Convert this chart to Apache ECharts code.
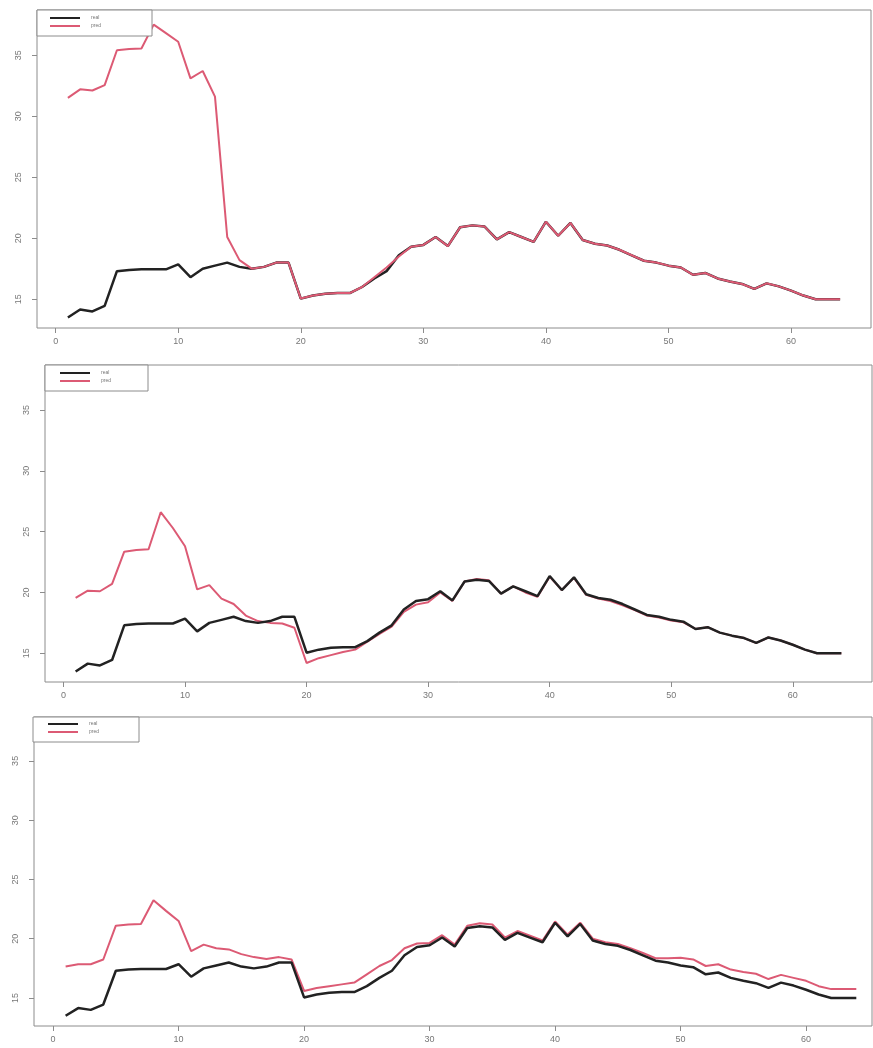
<!DOCTYPE html>
<html>
<head>
<meta charset="utf-8">
<script src="https://cdn.jsdelivr.net/npm/echarts@6/dist/echarts.min.js"></script>
<style>
    html, body { margin: 0; padding: 0; background: #fff; }
    #chart { width: 873px; height: 1048px; }
</style>
</head>
<body>
<div id="chart"></div>
<script>
// time step index
var steps = [1, 2, 3, 4, 5, 6, 7, 8, 9, 10, 11, 12, 13, 14, 15, 16,
    17, 18, 19, 20, 21, 22, 23, 24, 25, 26, 27, 28, 29, 30, 31, 32,
    33, 34, 35, 36, 37, 38, 39, 40, 41, 42, 43, 44, 45, 46, 47, 48,
    49, 50, 51, 52, 53, 54, 55, 56, 57, 58, 59, 60, 61, 62, 63, 64];

// observed values (black line, same in all three panels)
var real = [13.5, 14.15, 14.0, 14.45, 17.3, 17.4, 17.45, 17.45, 17.45, 17.85, 16.8, 17.5, 17.75, 18.0, 17.65, 17.5,
    17.65, 18.0, 18.0, 15.05, 15.3, 15.45, 15.5, 15.5, 16.0, 16.7, 17.3, 18.6, 19.3, 19.45, 20.1, 19.35,
    20.9, 21.05, 20.95, 19.9, 20.5, 20.1, 19.7, 21.35, 20.2, 21.25, 19.85, 19.55, 19.4, 19.05, 18.6, 18.15,
    18.0, 17.75, 17.6, 17.0, 17.15, 16.7, 16.45, 16.25, 15.85, 16.3, 16.05, 15.7, 15.3, 15.0, 15.0, 15.0];

// predictions (pink line), one per panel
var pred1 = [31.5, 32.2, 32.1, 32.55, 35.4, 35.5, 35.55, 37.5, 36.8, 36.1, 33.1, 33.7, 31.6, 20.1, 18.2, 17.5,
    17.65, 18.0, 18.0, 15.05, 15.3, 15.45, 15.5, 15.5, 16.0, 16.8, 17.6, 18.5, 19.3, 19.45, 20.1, 19.35,
    20.9, 21.05, 20.95, 19.9, 20.5, 20.1, 19.7, 21.35, 20.2, 21.25, 19.85, 19.55, 19.4, 19.05, 18.6, 18.15,
    18.0, 17.75, 17.6, 17.0, 17.15, 16.7, 16.45, 16.25, 15.85, 16.3, 16.05, 15.7, 15.3, 15.0, 15.0, 15.0];

var pred2 = [19.55, 20.15, 20.1, 20.7, 23.35, 23.5, 23.55, 26.6, 25.3, 23.8, 20.25, 20.6, 19.5, 19.05, 18.1, 17.65,
    17.5, 17.45, 17.1, 14.2, 14.6, 14.85, 15.1, 15.3, 15.95, 16.6, 17.2, 18.4, 19.0, 19.2, 20.0, 19.3,
    20.9, 21.1, 21.0, 19.9, 20.5, 20.0, 19.65, 21.3, 20.2, 21.2, 19.8, 19.5, 19.3, 18.95, 18.55, 18.1,
    17.95, 17.7, 17.55, 17.0, 17.15, 16.7, 16.45, 16.25, 15.85, 16.3, 16.05, 15.7, 15.3, 15.0, 15.0, 15.0];

var pred3 = [17.65, 17.85, 17.85, 18.25, 21.1, 21.2, 21.25, 23.25, 22.35, 21.5, 18.95, 19.5, 19.2, 19.1, 18.7, 18.45,
    18.3, 18.45, 18.25, 15.6, 15.85, 16.0, 16.15, 16.3, 17.0, 17.7, 18.2, 19.2, 19.6, 19.65, 20.3, 19.5,
    21.1, 21.3, 21.2, 20.1, 20.65, 20.25, 19.85, 21.45, 20.35, 21.35, 20.0, 19.7, 19.55, 19.2, 18.8, 18.35,
    18.35, 18.4, 18.25, 17.7, 17.85, 17.4, 17.2, 17.05, 16.6, 16.95, 16.7, 16.45, 16.0, 15.75, 15.75, 15.75];

var xTicks = [0, 10, 20, 30, 40, 50, 60];
var yTicks = [15, 20, 25, 30, 35];
var names = ['real', 'pred'];

// last panel is cut off on the right, so its x range stops short
var panels = [
    {grid: {left: 37, top: 10, width: 834, height: 318}, xMax: 66.52, box: [37, 10, 115, 26], leg: [50, 15], pred: pred1, predOnTop: true},
    {grid: {left: 45, top: 365, width: 827, height: 317}, xMax: 66.52, box: [45, 365, 103, 26], leg: [60, 370], pred: pred2, predOnTop: false},
    {grid: {left: 34, top: 717, width: 838, height: 309}, xMax: 65.25, box: [33, 717, 106, 25], leg: [48, 721], pred: pred3, predOnTop: false}
];

function pairs(ys) {
    return steps.map(function (x, i) { return [x, ys[i]]; });
}

var grids = [], xAxes = [], yAxes = [], series = [], legends = [], boxes = [];
panels.forEach(function (p, i) {
    grids.push(Object.assign({show: true, borderColor: '#8c8c8c', borderWidth: 1, backgroundColor: 'transparent'}, p.grid));
    xAxes.push({
        type: 'value', gridIndex: i, min: -1.52, max: p.xMax, position: 'bottom',
        axisLine: {show: false, onZero: false},
        splitLine: {show: false},
        axisTick: {show: true, length: 5, customValues: xTicks, lineStyle: {color: '#8c8c8c'}},
        axisLabel: {customValues: xTicks, fontSize: 9, color: '#777', margin: 9, fontFamily: 'Liberation Sans'}
    });
    yAxes.push({
        type: 'value', gridIndex: i, min: 12.64, max: 38.7, position: 'left',
        axisLine: {show: false, onZero: false},
        splitLine: {show: false},
        axisTick: {show: true, length: 5, customValues: yTicks, lineStyle: {color: '#8c8c8c'}},
        axisLabel: {customValues: yTicks, rotate: 90, fontSize: 9, color: '#777', margin: 14, fontFamily: 'Liberation Sans'}
    });
    series.push({
        name: 'real', type: 'line', xAxisIndex: i, yAxisIndex: i,
        data: pairs(real), symbol: 'none', z: p.predOnTop ? 2 : 3,
        lineStyle: {color: '#222', width: 2.5}, itemStyle: {color: '#222'}
    });
    series.push({
        name: 'pred', type: 'line', xAxisIndex: i, yAxisIndex: i,
        data: pairs(p.pred), symbol: 'none', z: p.predOnTop ? 3 : 2,
        lineStyle: {color: '#dc5a74', width: 2}, itemStyle: {color: '#dc5a74'}
    });
    boxes.push({
        type: 'rect', z: 50,
        shape: {x: p.box[0], y: p.box[1], width: p.box[2], height: p.box[3]},
        style: {fill: '#fff', stroke: '#8c8c8c', lineWidth: 1}
    });
    legends.push({
        data: names, orient: 'vertical', left: p.leg[0], top: p.leg[1], z: 60,
        icon: 'rect', itemWidth: 30, itemHeight: 2, itemGap: 2, padding: 0,
        selectedMode: false,
        textStyle: {fontSize: 5, lineHeight: 6, color: '#777', padding: [0, 0, 0, 6]}
    });
});

var myChart = echarts.init(document.getElementById('chart'));
var option = {
    animation: false,
    backgroundColor: '#fff',
    grid: grids,
    xAxis: xAxes,
    yAxis: yAxes,
    legend: legends,
    graphic: boxes,
    series: series
};
myChart.setOption(option);
</script>
</body>
</html>
